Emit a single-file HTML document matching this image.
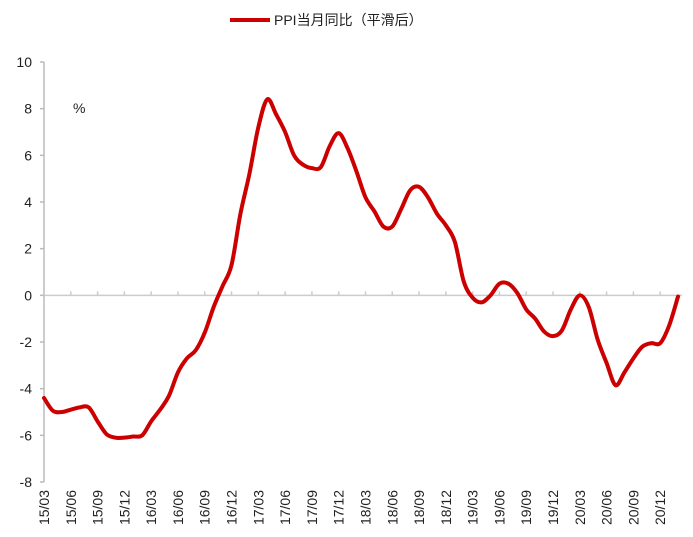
<!DOCTYPE html>
<html><head><meta charset="utf-8"><style>
body{margin:0;background:#fff;}
svg{display:block;font-family:"Liberation Sans","Noto Sans CJK SC",sans-serif;}
</style></head><body>
<svg width="693" height="537">
<g>
<line x1="230" y1="20" x2="270" y2="20" stroke="#cc0000" stroke-width="4"/>
<text x="274" y="25" font-size="14" fill="#222">PPI当月同比（平滑后）</text>
</g>
<text x="73" y="113" font-size="14" fill="#222">%</text>
<g id="axes"></g>
<path id="line" fill="none" stroke="#cc0000" stroke-width="4" stroke-linejoin="round" stroke-linecap="round"/>
</svg>
<script>
const yTicks=[10,8,6,4,2,0,-2,-4,-6,-8];
const xLabels=["15/03","15/06","15/09","15/12","16/03","16/06","16/09","16/12","17/03","17/06","17/09","17/12","18/03","18/06","18/09","18/12","19/03","19/06","19/09","19/12","20/03","20/06","20/09","20/12"];
const values=[-4.4,-4.95,-5.0,-4.9,-4.8,-4.8,-5.4,-5.95,-6.1,-6.1,-6.05,-6.0,-5.4,-4.9,-4.3,-3.3,-2.7,-2.35,-1.6,-0.5,0.4,1.3,3.5,5.2,7.2,8.4,7.75,7.0,6.0,5.6,5.45,5.5,6.4,6.95,6.3,5.3,4.2,3.6,2.95,2.95,3.7,4.5,4.65,4.2,3.5,3.0,2.3,0.6,-0.1,-0.3,0.0,0.5,0.5,0.1,-0.6,-1.0,-1.55,-1.75,-1.5,-0.6,0.0,-0.5,-1.9,-2.9,-3.85,-3.3,-2.7,-2.2,-2.05,-2.05,-1.3,-0.05];
const NS="http://www.w3.org/2000/svg";
const x0=44,dx=8.93,yTop=62,yBot=482;
const X=i=>x0+i*dx;
const Y=v=>yTop+(10-v)*(yBot-yTop)/18;
const g=document.getElementById('axes');
function mk(t,a){const e=document.createElementNS(NS,t);for(const k in a)e.setAttribute(k,a[k]);g.appendChild(e);return e;}
let ax=mk('line',{x1:x0,y1:yTop,x2:x0,y2:yBot,stroke:'#bbb','stroke-width':1.5});


let zl=mk('line',{x1:x0,y1:Y(0),x2:682,y2:Y(0),stroke:'#ccc','stroke-width':1.5});


yTicks.forEach(v=>{
 let t=mk('line',{x1:x0-4,y1:Y(v),x2:x0,y2:Y(v),stroke:'#bbb','stroke-width':1.5});
 
 
 let l=mk('text',{x:32,y:Y(v)+5,'text-anchor':'end','font-size':14,fill:'#222'});
 l.textContent=v;
 
 
});
xLabels.forEach((s,k)=>{
 const x=X(k*3);
 if(k>0){let t=mk('line',{x1:x,y1:Y(0)-4,x2:x,y2:Y(0),stroke:'#ccc','stroke-width':1.5});
 
 }
 let l=mk('text',{x:0,y:0,'text-anchor':'end','font-size':14,fill:'#222',transform:`translate(${x+5},490) rotate(-90)`});
 l.textContent=s;
 
 
});
const P=values.map((v,i)=>[X(i),Y(v)]);
let d=`M${P[0][0]},${P[0][1]}`;
for(let i=0;i<P.length-1;i++){
 const p0=P[Math.max(0,i-1)],p1=P[i],p2=P[i+1],p3=P[Math.min(P.length-1,i+2)];
 const c1=[p1[0]+(p2[0]-p0[0])/6,p1[1]+(p2[1]-p0[1])/6];
 const c2=[p2[0]-(p3[0]-p1[0])/6,p2[1]-(p3[1]-p1[1])/6];
 d+=` C${c1[0]},${c1[1]} ${c2[0]},${c2[1]} ${p2[0]},${p2[1]}`;
}
document.getElementById('line').setAttribute('d',d);
</script>
</body></html>
